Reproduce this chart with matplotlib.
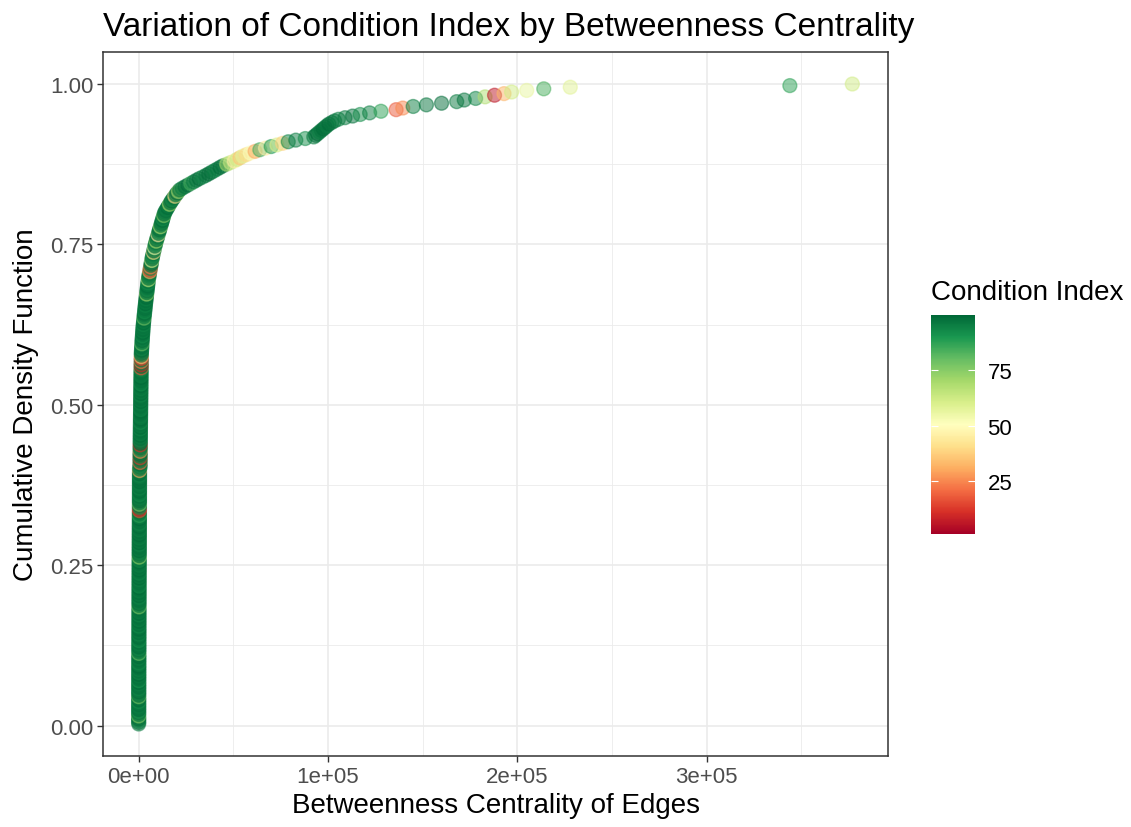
import numpy as np
import pandas as pd
import matplotlib
matplotlib.use('Agg')
import matplotlib.pyplot as plt

plt.rcParams['font.family'] = ['Liberation Sans', 'DejaVu Sans']

# betweenness centrality of edges (sorted)
betweenness = [
    # column at ~0
    0, 1, 2, 3, 5, 6, 8, 9, 11, 12, 14, 15, 17, 19, 20, 22, 24, 25, 27, 29,
    31, 33, 34, 36, 38, 40, 42, 44, 46, 48, 50, 52, 54, 56, 58, 60, 63, 65, 67, 69,
    72, 74, 76, 79, 81, 84, 86, 89, 91, 94, 96, 99, 102, 104, 107, 110, 113, 115, 118, 121,
    124, 127, 130, 133, 136, 139, 142, 145, 148, 151, 154, 158, 161, 164, 167, 171, 174, 177, 181, 184,
    188, 191, 195, 198, 202, 205, 209, 212, 216, 220, 223, 227, 231, 235, 238, 242, 246, 250, 254, 258,
    262, 266, 270, 274, 278, 282, 286, 290, 294, 298, 302, 306, 310, 314, 318, 322, 326, 330, 334, 338,
    342, 346, 350, 354, 358, 362, 366, 370, 374, 378, 382, 385, 388, 391, 394, 396, 398, 400, 402, 404,
    406, 408, 410, 412, 414, 416, 418, 420, 422, 424, 426, 428, 430, 432, 434, 436, 438, 440, 442, 445,
    # second part of the column
    705, 712, 720, 728, 735, 743, 750, 758, 766, 773, 781, 790, 798, 806, 815, 823, 832, 840, 849, 858,
    866, 875, 884, 893, 902, 911, 920, 929, 938, 948, 957, 966, 976, 985, 995, 1004, 1014, 1024, 1034, 1044,
    1054, 1064, 1074, 1084, 1095, 1105, 1116, 1126, 1137, 1148, 1159, 1170, 1181, 1192, 1203, 1215, 1226, 1238, 1250, 1262,
    1274, 1286, 1298, 1311, 1323, 1336, 1349, 1362, 1375, 1388, 1400, 1412,
    # the bend
    1450, 1500, 1550, 1600, 1650, 1700, 1760, 1820, 1880, 1940, 2000, 2060, 2120, 2180, 2240, 2300,
    2380, 2460, 2540, 2620, 2700, 2790, 2880, 2970, 3060, 3150, 3240, 3330, 3420, 3510, 3600, 3690,
    3800, 3900, 4000, 4100, 4200, 4300, 4400, 4500, 4600, 4700, 4800, 4900, 5000, 5100, 5250, 5400,
    5550, 5700, 5850, 6000, 6150, 6300, 6450, 6600, 6750, 6900, 7050, 7200, 7400, 7600, 7800, 8000, 8200, 8400, 8600, 8800,
    9000, 9250, 9500, 9750, 10000, 10250, 10500, 10750, 11000, 11250, 11500, 11750, 12000, 12250, 12500, 12750, 13000, 13250, 13500, 13800,
    14300, 14800, 15300, 15800, 16300, 16800, 17300, 17900, 18500, 19100, 19700, 20300, 21000, 21700,
    # the tail
    23000, 24500, 26000, 27500, 29000, 30500, 32000, 33800,
    35500, 37000, 38500, 40000, 41500, 43000, 44500, 46500,
    48500, 50500, 52000, 53500, 55000, 57000, 59000, 61500,
    64000, 67000, 70000, 73000, 76000, 79000, 83000, 88000,
    92500, 93500, 94500, 95500, 96500, 97500, 98500, 99500, 100500, 102000, 103500, 105500,
    109000, 113000, 117000, 122000, 128000,
    136000, 139500, 145000, 152000, 160000, 168000,
    172000, 178000, 183000, 188000, 193000, 197000, 205000,
    214000, 228000, 344000, 377000,
]

condition = [
    96, 98, 94, 99, 97, 76, 95, 98, 92, 99, 97, 95, 98, 96, 93, 99, 97, 78, 98, 95,
    99, 96, 94, 98, 97, 95, 99, 91, 97, 98, 96, 99, 94, 97, 95, 98, 99, 96, 93, 97,
    98, 95, 99, 97, 80, 96, 98, 94, 99, 97, 95, 98, 92, 96, 99, 97, 94, 98, 96, 99,
    97, 93, 98, 96, 99, 95, 97, 98, 94, 99, 96, 97, 98, 77, 95, 99, 96, 98, 97, 94,
    99, 96, 98, 95, 97, 99, 93, 96, 98, 97, 95, 99, 96, 98, 94, 97, 99, 96, 98, 95,
    97, 99, 94, 96, 74, 98, 97, 95, 99, 96, 98, 97, 94, 99, 96, 98, 95, 97, 99, 96,
    98, 95, 97, 99, 96, 94, 98, 97, 99, 95, 88, 96, 98, 15, 8, 92, 97, 78, 96, 99,
    97, 95, 98, 93, 96, 99, 97, 94, 98, 96, 95, 99, 97, 98, 96, 94, 99, 97, 30, 95,
    97, 94, 99, 20, 96, 98, 12, 95, 99, 97, 25, 93, 98, 96, 10, 99, 97, 94, 98, 96,
    99, 95, 97, 98, 94, 99, 96, 97, 93, 98, 99, 96, 95, 97, 98, 99, 94, 96, 98, 97,
    95, 99, 96, 98, 97, 94, 99, 96, 98, 95, 97, 99, 93, 96, 98, 97, 99, 95, 96, 98,
    97, 94, 18, 99, 8, 96, 22, 97, 12, 35, 96, 98,
    96, 99, 94, 98, 97, 80, 95, 99, 96, 98, 93, 97, 99, 95, 98, 96,
    97, 94, 99, 96, 98, 78, 95, 97, 99, 93, 96, 98, 97, 94, 99, 96,
    98, 95, 99, 97, 70, 96, 98, 94, 97, 99, 96, 93, 98, 65, 97, 95,
    96, 98, 30, 15, 94, 22, 97, 99, 95, 60, 98, 96, 93, 97, 40, 99, 96, 55, 98, 94,
    97, 70, 99, 95, 98, 45, 96, 94, 99, 97, 68, 95, 98, 96, 99, 93, 97, 75, 98, 96,
    98, 95, 99, 96, 70, 97, 99, 94, 98, 40, 96, 99, 72, 97,
    95, 98, 99, 85, 96, 97, 99, 94,
    97, 99, 98, 95, 96, 99, 97, 70,
    65, 45, 62, 35, 58, 40, 52, 30,
    85, 45, 90, 60, 38, 94, 96, 92,
    96, 98, 99, 95, 97, 99, 98, 96, 99, 97, 98, 95,
    96, 98, 92, 95, 88,
    18, 25, 95, 97, 99, 96,
    97, 94, 68, 6, 32, 62, 56,
    84, 58, 88, 62,
]

x_ticks = [0, 100000, 200000, 300000]
x_labels = ['0e+00', '1e+05', '2e+05', '3e+05']
y_ticks = [0, 0.25, 0.5, 0.75, 1.0]
y_labels = ['0.00', '0.25', '0.50', '0.75', '1.00']

df = pd.DataFrame({'bc': betweenness, 'ci': condition})
df['cdf'] = df['bc'].rank(method='max') / len(df)

fig = plt.figure(figsize=(11.31, 8.28), dpi=100)
ax = fig.add_axes([103/1131, 71/828, 785/1131, 704/828])

grid_col = '#EBEBEB'
for v in [50000, 150000, 250000, 350000]:
    ax.axvline(v, color=grid_col, lw=0.6, zorder=0)
for v in [0.125, 0.375, 0.625, 0.875]:
    ax.axhline(v, color=grid_col, lw=0.6, zorder=0)
for v in x_ticks:
    ax.axvline(v, color=grid_col, lw=1.2, zorder=0)
for v in y_ticks:
    ax.axhline(v, color=grid_col, lw=1.2, zorder=0)

sc = ax.scatter(df['bc'], df['cdf'], c=df['ci'], cmap='RdYlGn', vmin=1, vmax=100,
                s=100, alpha=0.5, linewidths=1.0, edgecolors='face', zorder=2)

rng = max(betweenness) - min(betweenness)
ax.set_xlim(min(betweenness) - 0.05 * rng, max(betweenness) + 0.05 * rng)
ymin = df['cdf'].min()
ax.set_ylim(ymin - 0.05 * (1 - ymin), 1 + 0.05 * (1 - ymin))

ax.set_xticks(x_ticks)
ax.set_xticklabels(x_labels)
ax.set_yticks(y_ticks)
ax.set_yticklabels(y_labels)
ax.tick_params(labelsize=16, labelcolor='#4D4D4D', color='#333333', length=4, width=1, pad=3)
for s in ax.spines.values():
    s.set_color('#333333')
    s.set_linewidth(1.1)

ax.set_xlabel('Betweenness Centrality of Edges', fontsize=20, labelpad=4)
ax.set_ylabel('Cumulative Density Function', fontsize=20, labelpad=8)
fig.text(103/1131, 1 - 36/828, 'Variation of Condition Index by Betweenness Centrality',
         fontsize=24, ha='left', va='baseline')

# colour bar legend
cax = fig.add_axes([931/1131, 293/828, 44/1131, 219/828])
cb = fig.colorbar(sc, cax=cax)
cb.solids.set_alpha(1)
cb.outline.set_visible(False)
cb.set_ticks([25, 50, 75])
cax.tick_params(which='both', direction='in', left=True, right=True, color='white',
                length=5, width=0.8, labelsize=16, pad=9)
fig.text(931/1131, 1 - 300/828, 'Condition Index', fontsize=20, ha='left', va='baseline')

fig.savefig('out.png', dpi=100)
